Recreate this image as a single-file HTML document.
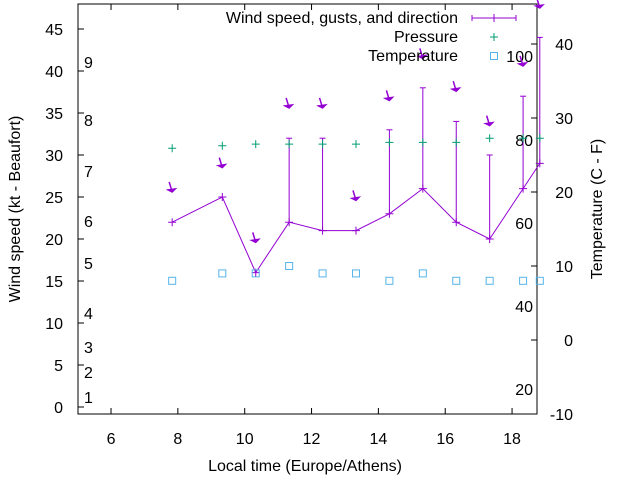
<!DOCTYPE html>
<html><head><meta charset="utf-8"><style>
body{margin:0;background:#fff}
svg{display:block;font-family:"Liberation Sans",sans-serif;font-size:16px}
</style></head><body>
<svg id="c" width="640" height="480" viewBox="0 0 640 480">
<rect width="640" height="480" fill="#fff"/>
<g id="g"></g>
</svg>
<script>
const hours=[7.83,9.33,10.33,11.33,12.33,13.33,14.33,15.33,16.33,17.33,18.33,18.83];
const speed=[22,25,16,22,21,21,23,26,22,20,26,29];
const gust=[null,null,null,32,32,null,33,38,34,30,37,44];
const pressure=[30.8,31.1,31.3,31.3,31.3,31.3,31.5,31.5,31.5,32,32,32];
const temperature=[8,9,9,10,9,9,8,9,8,8,8,8];
const arrowY=[25.6,28.5,19.6,35.6,35.6,24.6,36.5,41.5,37.6,33.5,40.6,47.5];
const xTicks=[6,8,10,12,14,16,18];
const yTicks=[0,5,10,15,20,25,30,35,40,45];
const y2Ticks=[-10,0,10,20,30,40];
const beaufort=[[1,397],[2,372],[3,347],[4,313],[5,263],[6,221],[7,171],[8,120],[9,62]];
const fahr=[[20,389],[40,306],[60,223],[80,140],[100,56]];
const L=78,R=537,T=4,B=414;
const X=v=>77.6+(v-5)*33.42;
const Y=v=>407-v*8.4;
const Y2=v=>340-v*7.4;
const g=document.getElementById('g');
const NS='http://www.w3.org/2000/svg';
function mk(t,a,txt){const e=document.createElementNS(NS,t);for(const k in a)e.setAttribute(k,a[k]);if(txt!==undefined)e.textContent=txt;g.appendChild(e);return e;}
let e;
e=mk('rect',{x:L,y:T,width:R-L,height:B-T,fill:'none',stroke:'#000','stroke-width':1});


xTicks.forEach(v=>{const x=X(v);
e=mk('line',{x1:x,y1:B,x2:x,y2:B-6,stroke:'#000'});


mk('line',{x1:x,y1:T,x2:x,y2:T+6,stroke:'#000'});
e=mk('text',{x:x,y:444,'text-anchor':'middle'},v);

});
yTicks.forEach(v=>{const y=Y(v);
e=mk('line',{x1:L,y1:y,x2:L+6,y2:y,stroke:'#000'});


e=mk('text',{x:63,y:y+6,'text-anchor':'end'},v);

});
y2Ticks.forEach(v=>{const y=Y2(v);
e=mk('line',{x1:R,y1:y,x2:R-6,y2:y,stroke:'#000'});


e=mk('text',{x:573,y:y+6,'text-anchor':'end'},v);

});
beaufort.forEach(([v,y])=>{e=mk('text',{x:84,y:y+6},v);

});
fahr.forEach(([v,y])=>{e=mk('text',{x:533,y:y+6,'text-anchor':'end'},v);

});
// gust bars
hours.forEach((h,i)=>{if(gust[i]==null)return;const x=X(h);
e=mk('line',{x1:x,y1:Y(speed[i]),x2:x,y2:Y(gust[i]),stroke:'#9400d3'});


mk('line',{x1:x-3,y1:Y(gust[i]),x2:x+3,y2:Y(gust[i]),stroke:'#9400d3'});});
// speed line
e=mk('polyline',{points:hours.map((h,i)=>X(h)+','+Y(speed[i])).join(' '),fill:'none',stroke:'#9400d3'});


hours.forEach((h,i)=>{const x=X(h),y=Y(speed[i]);
e=mk('path',{d:`M${x-4},${y}h8M${x},${y-4}v8`,stroke:'#9400d3'});

});
// arrows
hours.forEach((h,i)=>{const x=X(h),y=Y(arrowY[i]);
e=mk('path',{d:`M${x-3},${y-10}L${x},${y}M${x-4},${y-2}L${x},${y}L${x+3},${y-3}Z`,stroke:'#9400d3','stroke-width':1.5,fill:'#9400d3'});

});
// pressure
hours.forEach((h,i)=>{const x=X(h),y=Y(pressure[i]);
e=mk('path',{d:`M${x-4},${y}h8M${x},${y-4}v8`,stroke:'#009e73'});

});
// temperature
hours.forEach((h,i)=>{const x=X(h),y=Y2(temperature[i]);
e=mk('rect',{x:x-3.5,y:y-3.5,width:7,height:7,fill:'none',stroke:'#56b4e9'});

});
// legend
e=mk('text',{x:458,y:23,'text-anchor':'end'},'Wind speed, gusts, and direction');


mk('path',{d:'M472,18h44M472,15v6M516,15v6M490,18h8M494,14v8',stroke:'#9400d3',fill:'none'});
e=mk('text',{x:458,y:42,'text-anchor':'end'},'Pressure');


mk('path',{d:'M490,37h8M494,33v8',stroke:'#009e73'});
e=mk('text',{x:458,y:61,'text-anchor':'end'},'Temperature');


mk('rect',{x:490.5,y:52.5,width:7,height:7,fill:'none',stroke:'#56b4e9'});
// axis titles
e=mk('text',{x:305,y:471,'text-anchor':'middle'},'Local time (Europe/Athens)');


e=mk('text',{x:0,y:0,'text-anchor':'middle',transform:'translate(20,209) rotate(-90)'},'Wind speed (kt - Beaufort)');


e=mk('text',{x:0,y:0,'text-anchor':'middle',transform:'translate(602,209) rotate(-90)'},'Temperature (C - F)');


</script>
</body></html>
